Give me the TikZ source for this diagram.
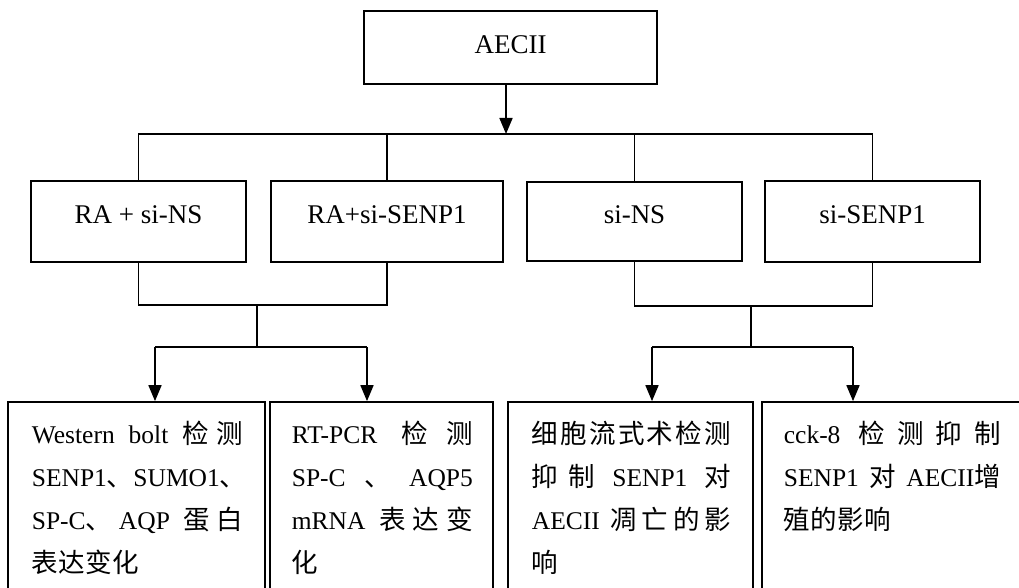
\documentclass[tikz,border=0pt]{standalone}
\usepackage{fontspec}
\setmainfont{Liberation Serif}
\newfontfamily\cjkf[Scale=1.04]{Noto Sans CJK SC}
\usetikzlibrary{arrows.meta}
\newcommand\zh[1]{{\cjkf #1}}
\newcommand\jsp{\hskip .25em plus 1fill\relax}
\newcommand\jcg{\hskip 0pt plus 1fill\relax}
\newcommand\jline[2]{\makebox[#1][s]{#2}}
\begin{document}
\begin{tikzpicture}[x=1pt,y=-1pt, line width=1.7pt,
  box/.style={draw, rectangle, inner sep=0pt},
  toptext/.style={font=\fontsize{27}{32}\selectfont, inner sep=0pt},
  ln/.style={anchor=base west, inner sep=0pt, font=\fontsize{25.5}{30}\selectfont},
  arr/.style={-{Triangle[length=16pt,width=13pt]}}]
\useasboundingbox (0,0) rectangle (1019,588);
\clip (0,0) rectangle (1019,588);

% top box
\node[box, minimum width=293pt, minimum height=73pt] (top) at (510.5,47.5) {};
\node[toptext] (topt) at (510.5,45) {AECII};

% group boxes
\node[box, minimum width=215pt, minimum height=81pt] (g1) at (138.5,221.5) {};
\node[toptext] (g1t) at (138.5,215) {RA + si-NS};
\node[box, minimum width=232pt, minimum height=81pt] (g2) at (387,221.5) {};
\node[toptext] (g2t) at (387,215) {RA+si-SENP1};
\node[box, minimum width=215pt, minimum height=79pt] (g3) at (634.5,221.5) {};
\node[toptext] (g3t) at (634.5,215) {si-NS};
\node[box, minimum width=215pt, minimum height=81pt] (g4) at (872.5,221.5) {};
\node[toptext] (g4t) at (872.5,215) {si-SENP1};

% bottom boxes
\node[box, minimum width=257pt, minimum height=218pt] (B1) at (136.5,511) {};
\node[box, minimum width=223pt, minimum height=218pt] (B2) at (381.5,511) {};
\node[box, minimum width=245pt, minimum height=218pt] (B3) at (630.5,511) {};
\node[box, minimum width=260pt, minimum height=218pt] (B4) at (892,511) {};

% connectors top
\coordinate (j0) at (506,134);
\draw[arr] (top.south -| j0) -- (j0);
\draw (g1.north) -- (g1.north |- j0) -- (g4.north |- j0) -- (g4.north);
\draw (g2.north) -- (g2.north |- j0);
\draw (g3.north) -- (g3.north |- j0);

% left bracket
\coordinate (jl) at (257,305);
\coordinate (jl2) at (257,347);
\draw (g1.south) |- (jl) -| (g2.south);
\draw (jl) -- (jl2);
\coordinate (al) at (155,347);
\coordinate (ar) at (367,347);
\draw (al) -- (ar);
\draw[arr] (al) -- (al |- B1.north);
\draw[arr] (ar) -- (ar |- B2.north);

% right bracket
\coordinate (jr) at (751,306);
\coordinate (jr2) at (751,347);
\draw (g3.south) |- (jr) -| (g4.south);
\draw (jr) -- (jr2);
\coordinate (cl) at (652,347);
\coordinate (cr) at (853,347);
\draw (cl) -- (cr);
\draw[arr] (cl) -- (cl |- B3.north);
\draw[arr] (cr) -- (cr |- B4.north);

% text box 1
\node[ln] (l11) at (31,443) {\jline{211pt}{Western\jsp bolt\jsp\zh{检}\jcg\zh{测}}};
\node[ln] (l12) at (31,486) {\jline{211pt}{SENP1\zh{、}\jcg SUMO1\zh{、}}};
\node[ln] (l13) at (31,529) {\jline{211pt}{SP-C\zh{、}\jcg AQP\jsp\zh{蛋}\jcg\zh{白}}};
\node[ln] (l14) at (31,572) {\jline{107pt}{\zh{表}\jcg\zh{达}\jcg\zh{变}\jcg\zh{化}}};

% text box 2
\node[ln] (l21) at (291,443) {\jline{181pt}{RT-PCR\jsp\zh{检}\jcg\zh{测}}};
\node[ln] (l22) at (291,486) {\jline{181pt}{SP-C\jsp\zh{、}\jsp AQP5}};
\node[ln] (l23) at (291,529) {\jline{181pt}{mRNA\jsp\zh{表}\jcg\zh{达}\jcg\zh{变}}};
\node[ln] (l24) at (291,572) {\zh{化}};

% text box 3
\node[ln] (l31) at (531,443) {\jline{199pt}{\zh{细}\jcg\zh{胞}\jcg\zh{流}\jcg\zh{式}\jcg\zh{术}\jcg\zh{检}\jcg\zh{测}}};
\node[ln] (l32) at (531,486) {\jline{199pt}{\zh{抑}\jcg\zh{制}\jsp SENP1\jsp\zh{对}}};
\node[ln] (l33) at (531,529) {\jline{199pt}{AECII\jsp\zh{凋}\jcg\zh{亡}\jcg\zh{的}\jcg\zh{影}}};
\node[ln] (l34) at (531,572) {\zh{响}};

% text box 4
\node[ln] (l41) at (783,443) {\jline{217pt}{cck-8\jsp\zh{检}\jcg\zh{测}\jcg\zh{抑}\jcg\zh{制}}};
\node[ln] (l42) at (783,486) {\jline{217pt}{SENP1\jsp\zh{对}\jsp AECII\zh{增}}};
\node[ln] (l43) at (783,529) {\jline{107pt}{\zh{殖}\jcg\zh{的}\jcg\zh{影}\jcg\zh{响}}};
\end{tikzpicture}
\end{document}
